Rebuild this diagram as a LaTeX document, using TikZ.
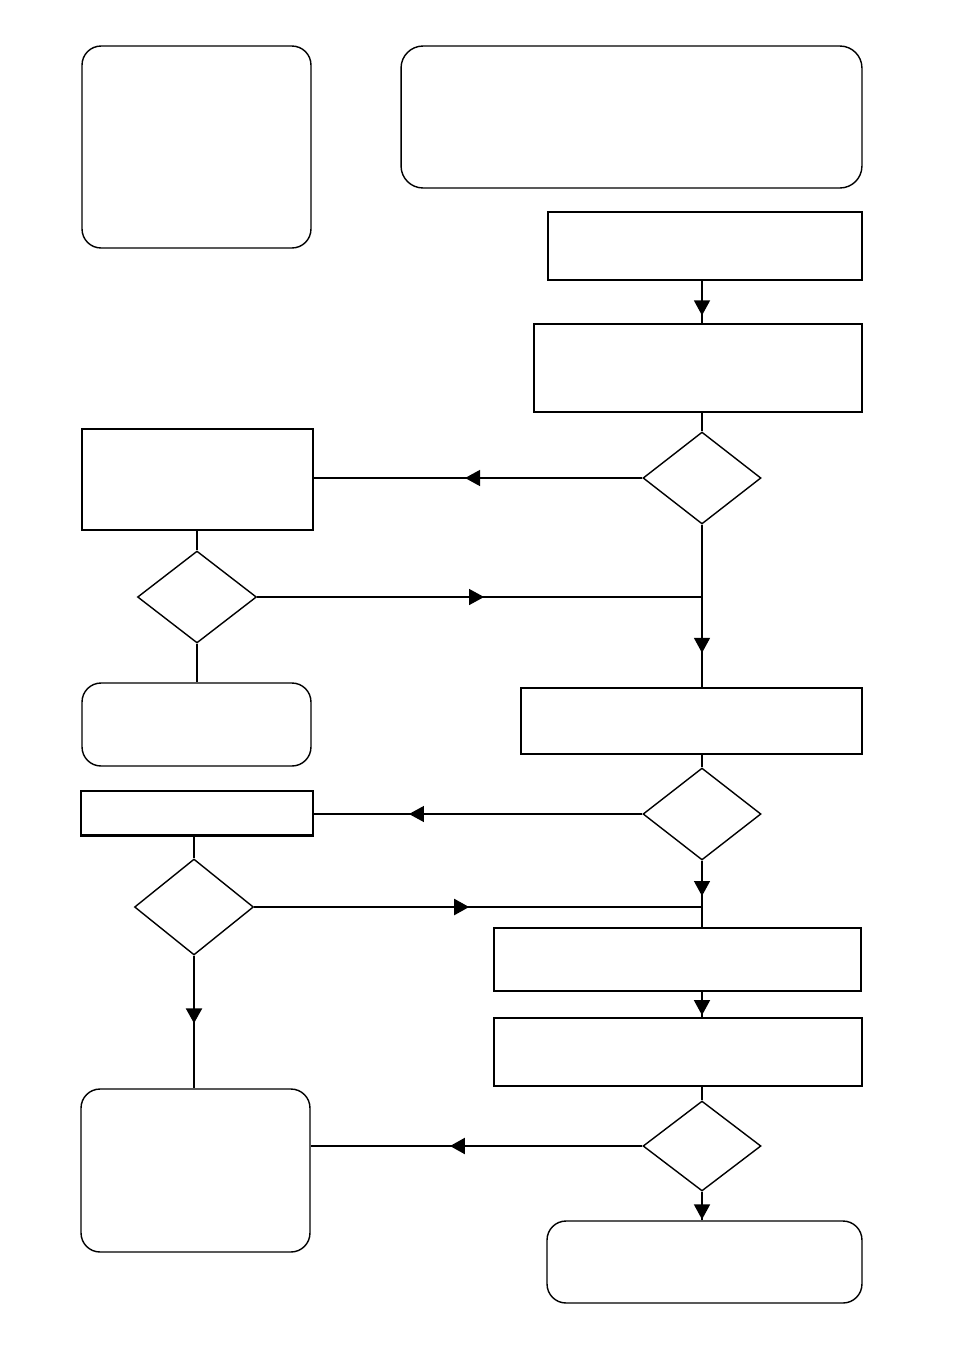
\documentclass[tikz,border=0pt]{standalone}
\usepackage{tikz}
\usetikzlibrary{shapes.geometric,arrows.meta,decorations.markings}

\tikzset{
    box/.style={draw, rectangle, line width=1.2pt, inner sep=0pt},
    thinbox/.style={draw, rectangle, line width=0.8pt, inner sep=0pt},
    term/.style={draw, rectangle, rounded corners=0.38cm, line width=0.8pt, inner sep=0pt},
    decision/.style={draw, diamond, line width=0.8pt, inner sep=0pt,
        minimum width=2.36cm, minimum height=1.84cm},
    flow/.style={line width=0.8pt},
    heavy/.style={line width=1.3pt},
    midarrow/.style={postaction={decorate}, decoration={markings,
        mark=at position #1 with {\arrow{Triangle[length=0.3cm, width=0.32cm]}}}}
}

\begin{document}
\begin{tikzpicture}[x=0.02cm, y=-0.02cm]
\useasboundingbox (0,0) rectangle (954,1350);

% Top: notes and start
\node[term, minimum width=4.58cm, minimum height=4.04cm] (note) at (196.5,147) {};
\node[term, rounded corners=0.44cm, minimum width=9.22cm, minimum height=2.84cm] (title) at (631.5,117) {};
\node[box, minimum width=6.28cm, minimum height=1.36cm] (A) at (705,246) {};
\node[box, minimum width=6.56cm, minimum height=1.76cm] (B) at (698,368) {};

% First decision and left branch
\node[decision] (D1) at (702,478) {};
\node[box, minimum width=4.62cm, minimum height=2.02cm] (C) at (197.5,479.5) {};
\node[decision, minimum width=2.38cm] (D2) at (197,597) {};
\node[term, minimum width=4.58cm, minimum height=1.66cm] (F) at (196.5,724.5) {};

% Second decision
\node[box, minimum width=6.82cm, minimum height=1.32cm] (E) at (691.5,721) {};
\node[decision] (D3) at (702,814) {};
\node[thinbox, minimum width=4.64cm, minimum height=0.88cm] (G) at (197,813) {};
\draw[heavy] (G.south west) -- (G.south east);
\node[decision, minimum width=2.38cm, minimum height=1.92cm] (D4) at (194,907) {};

% Bottom part
\node[thinbox, minimum width=7.34cm, minimum height=1.26cm] (H) at (677.5,959.5) {};
\node[box, minimum width=7.36cm, minimum height=1.36cm] (I) at (678,1052) {};
\node[decision, minimum height=1.80cm] (D5) at (702,1146) {};
\node[term, minimum width=4.58cm, minimum height=3.26cm] (J) at (195.5,1170.5) {};
\node[term, minimum width=6.3cm, minimum height=1.64cm] (K) at (704.5,1262) {};

% Junctions on the main line
\coordinate (j1) at (D1 |- D2);
\coordinate (j2) at (D3 |- D4);

% Connectors
\draw[flow, midarrow=0.82] (A.south -| D1) -- (B.north -| D1);
\draw[flow] (B.south -| D1) -- (D1.north);
\draw[flow, midarrow=0.54] (D1.west) -- (D1.west -| C.east);
\draw[flow] (C.south -| D2) -- (D2.north);
\draw[flow, midarrow=0.51] (D2.east) -- (j1);
\draw[flow, midarrow=0.79] (D1.south) -- (E.north -| D1);
\draw[flow] (D2.south) -- (F.north -| D2);
\draw[flow] (E.south -| D3) -- (D3.north);
\draw[flow, midarrow=0.71] (D3.west) -- (D3.west -| G.east);
\draw[heavy] (G.south -| D4) -- (D4.north);
\draw[heavy, midarrow=0.48] (D4.east) -- (j2);
\draw[flow, midarrow=0.53] (D3.south) -- (H.north -| D3);
\draw[flow, midarrow=0.93] (H.south -| D3) -- (I.north -| D3);
\draw[flow] (I.south -| D5) -- (D5.north);
\draw[heavy, midarrow=0.58] (D5.west) -- (D5.west -| J.east);
\draw[heavy, midarrow=0.51] (D4.south) -- (J.north -| D4);
\draw[flow, midarrow=0.97] (D5.south) -- (K.north -| D5);
\end{tikzpicture}
\end{document}
